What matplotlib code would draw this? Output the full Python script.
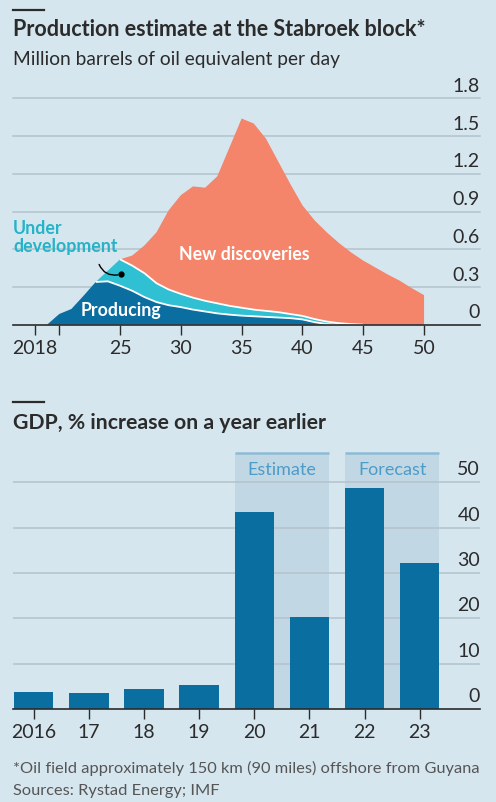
import matplotlib
matplotlib.use("Agg")
import matplotlib.pyplot as plt
from matplotlib.transforms import blended_transform_factory
import numpy as np

plt.rcParams['font.family'] = ['Lato', 'DejaVu Sans']

# ---------------- data ----------------
years_prod = list(range(2019, 2051))
producing = [0, 0.085, 0.125, 0.23, 0.34, 0.345, 0.31, 0.27, 0.22, 0.18, 0.155, 0.14,
             0.12, 0.105, 0.09, 0.08, 0.072, 0.067, 0.062, 0.057, 0.052, 0.042, 0.02,
             0.005, 0, 0, 0, 0, 0, 0, 0, 0]
under_development = [0, 0, 0, 0, 0, 0.085, 0.21, 0.20, 0.19, 0.15, 0.125, 0.105,
                     0.095, 0.085, 0.08, 0.07, 0.063, 0.053, 0.048, 0.043, 0.033, 0.028,
                     0.025, 0.02, 0.012, 0.005, 0, 0, 0, 0, 0, 0]
new_discoveries = [0, 0, 0, 0, 0, 0, 0, 0.08, 0.22, 0.405, 0.63, 0.785, 0.885, 0.90,
                   1.01, 1.26, 1.505, 1.48, 1.37, 1.20, 1.035, 0.88, 0.785, 0.71, 0.638,
                   0.57, 0.51, 0.455, 0.40, 0.35, 0.29, 0.235]
prod_yticks = [0, 0.3, 0.6, 0.9, 1.2, 1.5, 1.8]
prod_ytick_labels = ["0", "0.3", "0.6", "0.9", "1.2", "1.5", "1.8"]
prod_xticks = [2018, 2020, 2025, 2030, 2035, 2040, 2045, 2050]
prod_xlabels = {2018: "2018", 2025: "25", 2030: "30", 2035: "35", 2040: "40",
                2045: "45", 2050: "50"}

gdp_years = [2016, 2017, 2018, 2019, 2020, 2021, 2022, 2023]
gdp_labels = ["2016", "17", "18", "19", "20", "21", "22", "23"]
gdp_growth = [3.7, 3.6, 4.4, 5.3, 43.5, 20.4, 48.7, 32.1]
gdp_yticks = [0, 10, 20, 30, 40, 50]
estimate_years = [2020, 2021]
forecast_years = [2022, 2023]

# ---------------- style ----------------
W, H = 496, 803
BG = "#d6e6ef"
GRID = "#b3c3cc"
DARK = "#2b2b2b"
C_PROD = "#0b6ea0"
C_UD = "#2fc0d3"
C_NEW = "#f4846a"
C_SHADE = "#c1d8e4"
C_SHADE_EDGE = "#8dbbd6"
C_SHADE_TXT = "#4d9bc8"


def fx(px):
    return px / W


def fy(py):
    return 1 - py / H


fig = plt.figure(figsize=(W / 100, H / 100), dpi=100, facecolor=BG)

# header rules
for yy in (10.5, 403):
    fig.add_artist(plt.Line2D([fx(13), fx(44)], [fy(yy), fy(yy)], color=DARK, lw=1.6))

fig.text(fx(13), fy(30), "Production estimate at the Stabroek block*", fontsize=15.5,
         fontweight="bold", color=DARK, va="center", ha="left")
fig.text(fx(13), fy(60), "Million barrels of oil equivalent per day", fontsize=13.8,
         color=DARK, va="center", ha="left")

# ---------------- top chart ----------------
y0, y1 = 325.7, 99.4
ax1 = fig.add_axes([fx(13), fy(y0), fx(480) - fx(13), (y0 - y1) / H])
ax1.set_facecolor("none")
ax1.set_xlim(2016.2, 2054.6)
ax1.set_ylim(0, 1.8)
for s in ["top", "left", "right"]:
    ax1.spines[s].set_visible(False)
ax1.spines["bottom"].set_color(DARK)
ax1.spines["bottom"].set_linewidth(1.2)
ax1.spines["bottom"].set_zorder(6)
for v in prod_yticks[1:]:
    ax1.axhline(v, color=GRID, lw=1.1, zorder=0, clip_on=False)

yr = np.array(years_prod, dtype=float)
p = np.array(producing)
u = np.array(under_development)
n = np.array(new_discoveries)
ax1.stackplot(yr, p, u, n, colors=[C_PROD, C_UD, C_NEW], lw=0, zorder=2)

# white boundaries between layers
top_p = p
top_u = p + u
m1 = (yr >= 2023) & (yr <= 2043)
ax1.plot(yr[m1], top_p[m1], color="white", lw=1.3, zorder=3, solid_capstyle="butt")
m2 = (yr >= 2025) & (yr <= 2045)
ax1.plot(yr[m2], top_u[m2], color="white", lw=1.3, zorder=3, solid_capstyle="butt")

ax1.set_yticks([])
ax1.set_xticks(prod_xticks)
ax1.set_xticklabels([prod_xlabels.get(t, "") for t in prod_xticks])
ax1.tick_params(axis="x", length=7, width=1.0, color=DARK, labelsize=14,
                labelcolor=DARK, pad=3)
tr1 = blended_transform_factory(ax1.transAxes, ax1.transData)
for v, lab in zip(prod_yticks, prod_ytick_labels):
    ax1.text(1.0, v + 0.035, lab, transform=tr1, ha="right", va="bottom",
             fontsize=14, color=DARK)

ax1.text(2035.2, 0.57, "New discoveries", color="white", fontsize=12.8,
         fontweight="bold", ha="center", va="center", zorder=5)
ax1.text(2025.1, 0.12, "Producing", color="white", fontsize=12.8,
         fontweight="bold", ha="center", va="center", zorder=5)
ax1.text(2016.2, 0.70, "Under\ndevelopment", color="#26b3c8", fontsize=12.8,
         fontweight="bold", ha="left", va="center", linespacing=1.1, zorder=5)
ax1.annotate("", xy=(2025.05, 0.40), xytext=(2023.2, 0.50),
             arrowprops=dict(arrowstyle="-", color="black", lw=1.0,
                             connectionstyle="arc3,rad=0.45"), zorder=6)
ax1.plot([2025.05], [0.40], "o", color="black", ms=3.5, zorder=6)

# ---------------- bottom chart ----------------
fig.text(fx(13), fy(423), "GDP, % increase on a year earlier", fontsize=15.3,
         fontweight="bold", color=DARK, va="center", ha="left")

b0, b1 = 710.0, 454.3
ax2 = fig.add_axes([fx(13), fy(b0), fx(480) - fx(13), (b0 - b1) / H])
ax2.set_facecolor("none")
ax2.set_xlim(2015.625, 2024.094)
ytop = (b0 - b1) / 4.533
ax2.set_ylim(0, ytop)
for s in ["top", "left", "right"]:
    ax2.spines[s].set_visible(False)
ax2.spines["bottom"].set_color(DARK)
ax2.spines["bottom"].set_linewidth(1.2)
ax2.spines["bottom"].set_zorder(6)

bw = 0.716
for yrs, lab in ((estimate_years, "Estimate"), (forecast_years, "Forecast")):
    xa, xb = min(yrs) - bw / 2, max(yrs) + bw / 2
    ax2.axvspan(xa, xb, color=C_SHADE, lw=0, zorder=0)
    ax2.plot([xa, xb], [ytop, ytop], color=C_SHADE_EDGE, lw=1.8, zorder=1,
             clip_on=False, solid_capstyle="butt")
    ax2.text((xa + xb) / 2, ytop - 3.5, lab, ha="center", va="center",
             fontsize=13, color=C_SHADE_TXT, zorder=2)

for v in gdp_yticks[1:]:
    ax2.axhline(v, color=GRID, lw=1.1, zorder=1)
ax2.bar(gdp_years, gdp_growth, width=bw, color=C_PROD, zorder=3)
ax2.set_yticks([])
ax2.set_xticks(gdp_years)
ax2.set_xticklabels(gdp_labels)
ax2.tick_params(axis="x", length=7, width=1.0, color=DARK, labelsize=14,
                labelcolor=DARK, pad=3)
tr2 = blended_transform_factory(ax2.transAxes, ax2.transData)
for v in gdp_yticks:
    ax2.text(1.0, v + 1.1, str(v), transform=tr2, ha="right", va="bottom",
             fontsize=14, color=DARK, zorder=4)

fig.text(fx(13), fy(768), "*Oil field approximately 150 km (90 miles) offshore from Guyana",
         fontsize=11.8, color="#555555", va="center", ha="left")
fig.text(fx(13), fy(791), "Sources: Rystad Energy; IMF", fontsize=11.8,
         color="#555555", va="center", ha="left")

fig.savefig("out.png", dpi=100, facecolor=BG)
